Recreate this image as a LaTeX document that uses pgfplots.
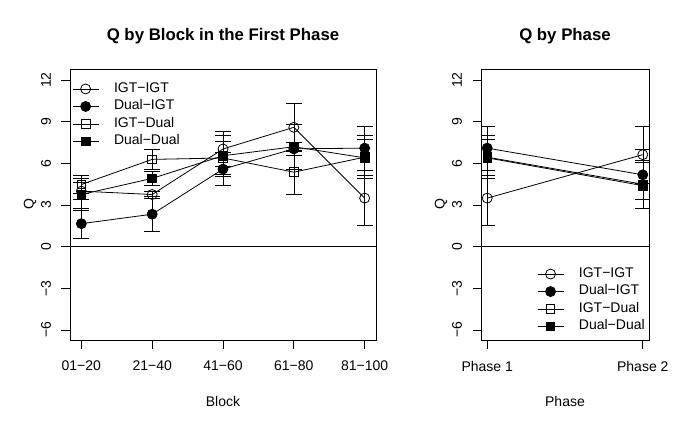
\documentclass[border=0pt]{standalone}
\usepackage{pgfplots}
\pgfplotsset{compat=1.18}
\usepackage{fontspec}
\setmainfont{Liberation Sans}

\pgfplotsset{
  rstyle/.style={
    scale only axis,
    anchor=south west,
    height=271pt,
    ymin=-6.72, ymax=12.8,
    ytick={-6,-3,0,3,6,9,12},
    yticklabels={−6,−3,0,3,6,9,12},
    extra y ticks={0},
    extra y tick labels={},
    extra y tick style={grid=major,major grid style={black,line width=0.8pt}},
    tick pos=left,
    tick align=outside,
    major tick length=8.5pt,
    axis line style={line width=0.8pt},
    every tick/.style={black,line width=0.8pt},
    font=\fontsize{14}{16}\selectfont,
    yticklabel style={rotate=90,anchor=south,yshift=7pt},
    xticklabel style={yshift=-9pt},
    title style={font=\fontsize{16.8}{18}\selectfont\bfseries,at={(0.5,1)},anchor=center,yshift=27pt},
    xlabel style={at={(0.5,0)},anchor=center,yshift=-61pt},
    ylabel style={at={(0,0.5)},anchor=center,rotate=0,yshift=40pt},
    ylabel={Q},
    every axis plot/.append style={black,line width=0.8pt,
      error bars/y dir=both, error bars/y explicit,
      error bars/error mark options={black,rotate=90,line width=0.8pt,mark size=8pt}},
    legend image code/.code={\draw[mark repeat=2,mark phase=2,#1] plot coordinates {(0pt,0pt) (13pt,0pt) (26pt,0pt)};},
    legend style={draw=none,fill=none,inner sep=0pt,row sep=4pt,
      font=\fontsize{14}{16}\selectfont,
      nodes={inner sep=0pt,text height=10pt,text depth=3.5pt},
      /tikz/every odd column/.style={column sep=15pt}},
    legend cell align=left,
  },
  mo/.style={mark=o,mark size=5pt,mark options={solid,line width=0.8pt}},
  mf/.style={mark=*,mark size=5pt,mark options={solid,fill=black}},
  so/.style={mark=square,mark size=4.3pt,mark options={solid,line width=0.8pt}},
  sf/.style={mark=square*,mark size=4.3pt,mark options={solid,fill=black}},
}

\begin{document}
\begin{tikzpicture}
\path (0,0) rectangle (685pt,428pt);

% left panel: Q by block
\begin{axis}[rstyle,
  at={(70pt,88pt)}, width=306pt,
  xmin=0.84, xmax=5.16,
  xtick={1,2,3,4,5},
  xticklabels={01−20,21−40,41−60,61−80,81−100},
  title={Q by Block in the First Phase},
  xlabel={Block},
  legend style={at={(0.0066,0.952)},anchor=north west},
]
\addplot[mo] coordinates {(1,4.0) +- (0,0.6) (2,3.76) +- (0,0.25) (3,7.04) +- (0,1.27) (4,8.6) +- (0,1.75) (5,3.5) +- (0,1.98)};
\addplot[mf] coordinates {(1,1.66) +- (0,1.08) (2,2.34) +- (0,1.26) (3,5.59) +- (0,1.2) (4,7.05) +- (0,0.45) (5,7.1) +- (0,1.57)};
\addplot[so] coordinates {(1,4.48) +- (0,0.65) (2,6.29) +- (0,0.7) (3,6.39) +- (0,1.2) (4,5.37) +- (0,1.6) (5,6.45) +- (0,1.55)};
\addplot[sf] coordinates {(1,3.76) +- (0,1.15) (2,4.92) +- (0,0.5) (3,6.55) +- (0,1.5) (4,7.2) +- (0,1.6) (5,6.4) +- (0,1.3)};
\legend{IGT−IGT,Dual−IGT,IGT−Dual,Dual−Dual}
\end{axis}

% right panel: Q by phase
\begin{axis}[rstyle,
  at={(481pt,88pt)}, width=168pt,
  xmin=0.96, xmax=2.04,
  xtick={1,2},
  xticklabels={Phase 1,Phase 2},
  title={Q by Phase},
  xlabel={Phase},
  legend style={at={(0.333,0.269)},anchor=north west},
]
\addplot[mo] coordinates {(1,3.5) +- (0,1.98) (2,6.63) +- (0,2.04)};
\addplot[mf] coordinates {(1,7.1) +- (0,1.57) (2,5.18) +- (0,1.8)};
\addplot[so] coordinates {(1,6.45) +- (0,1.55) (2,4.5) +- (0,1.75)};
\addplot[sf] coordinates {(1,6.4) +- (0,1.3) (2,4.4) +- (0,1.65)};
\legend{IGT−IGT,Dual−IGT,IGT−Dual,Dual−Dual}
\end{axis}
\end{tikzpicture}
\end{document}
